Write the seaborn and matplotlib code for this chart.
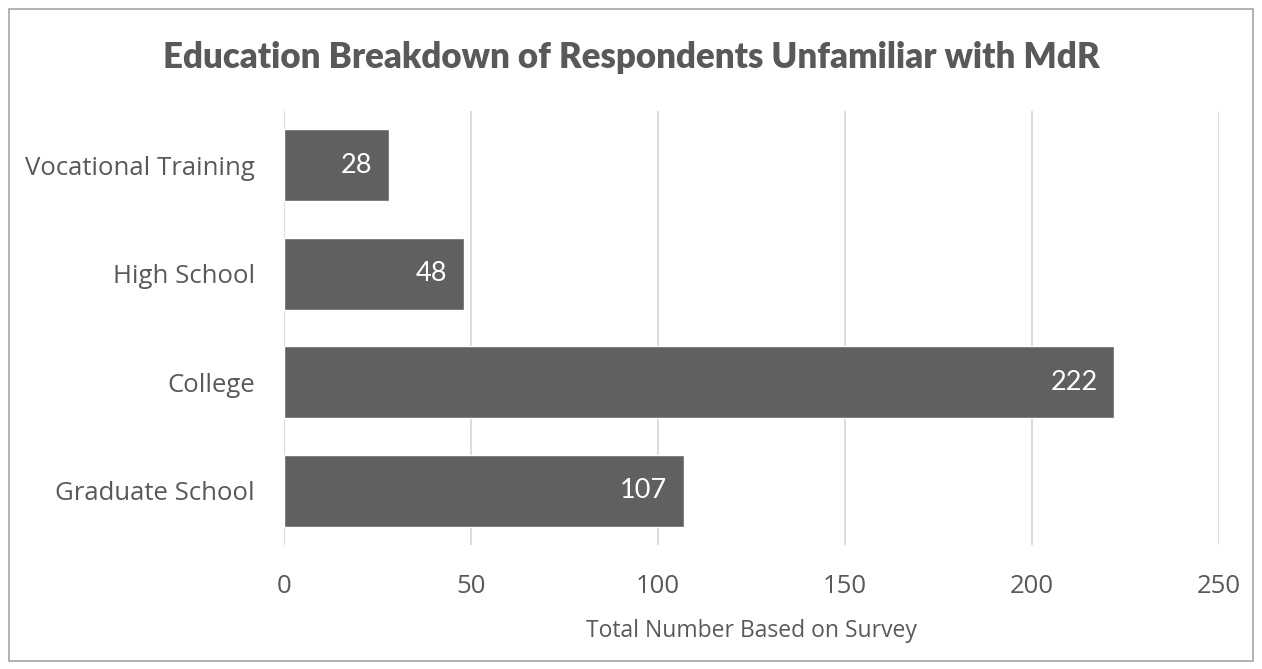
import matplotlib
matplotlib.use("Agg")
import matplotlib.pyplot as plt
from matplotlib.patches import Rectangle
import seaborn as sns
import pandas as pd

categories = ["Vocational Training", "High School", "College", "Graduate School"]
counts = [28, 48, 222, 107]
x_ticks = [0, 50, 100, 150, 200, 250]

title = "Education Breakdown of Respondents Unfamiliar with MdR"
x_label = "Total Number Based on Survey"

bar_color = "#606060"
text_color = "#595959"
grid_color = "#d9d9d9"

sns.set_theme(style="white")
plt.rcParams["font.family"] = ["Open Sans", "DejaVu Sans"]

df = pd.DataFrame({"category": categories, "count": counts})

fig = plt.figure(figsize=(12.62, 6.69), dpi=100)
ax = fig.add_axes([284 / 1262, 1 - 545 / 669, (1219 - 284) / 1262, (545 - 111) / 669])

sns.barplot(data=df, x="count", y="category", color=bar_color, saturation=1,
            width=0.665, ax=ax, orient="h")

ax.set_xlim(0, 250)
ax.set_ylim(3.5, -0.5)
ax.set_xticks(x_ticks)
ax.set_xticklabels([str(t) for t in x_ticks])
ax.xaxis.grid(True, color=grid_color, linewidth=1.3)
ax.yaxis.grid(False)
ax.set_axisbelow(True)
for s in ax.spines.values():
    s.set_visible(False)
ax.tick_params(axis="both", length=0, colors=text_color, labelsize=18.5)
ax.tick_params(axis="x", pad=21)
ax.tick_params(axis="y", pad=21)
ax.set_ylabel("")
ax.set_xlabel(x_label, color=text_color, fontsize=16.5, labelpad=14)

for bar, v in zip(ax.patches, counts):
    y = bar.get_y() + bar.get_height() / 2
    ax.annotate(str(v), xy=(bar.get_width(), y), xytext=(-12, 0),
                textcoords="offset points", ha="right", va="center",
                color="white", fontsize=19.5, family=["Lato", "DejaVu Sans"])

fig.text(0.5, 1 - 58 / 669, title, ha="center", va="center", color=text_color,
         fontsize=25, fontweight="heavy", family=["Lato", "DejaVu Sans"])

fig.patches.append(Rectangle((8.5 / 1262, 1 - 660.5 / 669), (1253 - 8.5) / 1262,
                             (660.5 - 8.5) / 669, transform=fig.transFigure,
                             fill=False, edgecolor="#a6a6a6", linewidth=1.2))

fig.savefig("out.png", dpi=100, facecolor="white")
